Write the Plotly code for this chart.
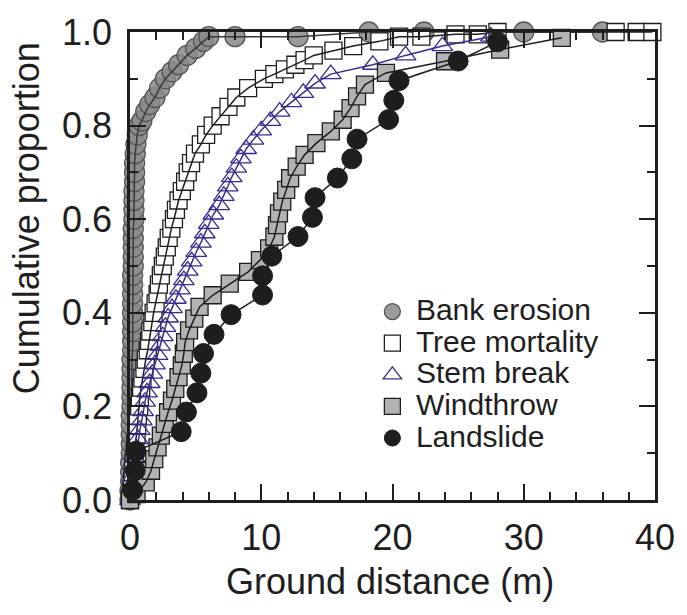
import plotly.graph_objects as go

# Cumulative proportion of wood input versus ground distance, by recruitment process
bank_x = [0.0, 0.0, 0.05, 0.05, 0.05, 0.1, 0.1, 0.1, 0.1, 0.1, 0.15, 0.15, 0.15, 0.15,
          0.15, 0.15, 0.2, 0.2, 0.2, 0.2, 0.2, 0.2, 0.2, 0.2, 0.2, 0.25, 0.25, 0.25, 0.25,
          0.25, 0.3, 0.3, 0.3, 0.3, 0.35, 0.35, 0.35, 0.4, 0.45, 0.55, 0.7, 0.9, 1.2, 1.5,
          1.9, 2.25, 2.7, 3.2, 3.7, 4.35, 5.0, 5.6, 6.0, 8.0, 12.8, 18.2, 22.4, 30.0, 36.0]
bank_y = [0.0, 0.02, 0.04, 0.06, 0.08, 0.10, 0.12, 0.14, 0.16, 0.18, 0.20, 0.22, 0.24, 0.26,
          0.28, 0.30, 0.32, 0.34, 0.36, 0.38, 0.40, 0.42, 0.44, 0.46, 0.48, 0.50, 0.52, 0.54, 0.56,
          0.58, 0.60, 0.62, 0.64, 0.66, 0.68, 0.70, 0.72, 0.74, 0.76, 0.78, 0.80, 0.81, 0.83, 0.845,
          0.86, 0.88, 0.90, 0.915, 0.93, 0.95, 0.965, 0.98, 0.99, 0.99, 0.99, 1.0, 1.0, 1.0, 1.0]

mort_x = [0.0, 0.1, 0.15, 0.2, 0.25, 0.35, 0.4, 0.5, 0.55, 0.6, 0.7, 0.75, 0.85, 0.95, 1.1,
          1.2, 1.35, 1.45, 1.55, 1.7, 1.8, 1.95, 2.1, 2.2, 2.35, 2.5, 2.65, 2.8, 2.95, 3.15,
          3.35, 3.5, 3.7, 3.95, 4.2, 4.4, 4.65, 4.95, 5.4, 5.8, 6.3, 6.9, 7.5, 8.1, 9.0,
          10.2, 11.0, 11.8, 12.6, 13.3, 14.0, 15.5, 17.0, 19.0, 20.5, 22.2, 24.8, 26.5, 28.0,
          37.0, 38.6, 39.8]
mort_y = [0.0, 0.02, 0.04, 0.06, 0.08, 0.10, 0.12, 0.14, 0.16, 0.18, 0.20, 0.22, 0.24, 0.26, 0.28,
          0.30, 0.32, 0.34, 0.36, 0.38, 0.40, 0.42, 0.44, 0.46, 0.48, 0.50, 0.52, 0.54, 0.56, 0.58,
          0.60, 0.62, 0.64, 0.66, 0.68, 0.70, 0.72, 0.74, 0.76, 0.78, 0.80, 0.82, 0.84, 0.86, 0.88,
          0.90, 0.91, 0.92, 0.93, 0.94, 0.95, 0.96, 0.97, 0.98, 0.99, 0.99, 0.995, 0.995, 1.0,
          1.0, 1.0, 1.0]

stem_x = [0.0, 0.05, 0.1, 0.2, 0.3, 0.4, 0.5, 0.6, 0.75, 0.9, 1.0, 1.15, 1.3, 1.5, 1.7, 1.9,
          2.1, 2.3, 2.5, 2.7, 2.9, 3.2, 3.5, 3.8, 4.1, 4.4, 4.7, 5.05, 5.4, 5.7, 6.0, 6.35,
          6.8, 7.15, 7.45, 7.75, 8.1, 8.45, 8.85, 9.4, 10.0, 10.7, 11.4, 12.3, 13.2, 14.1,
          15.3, 18.5, 21.0, 23.8, 27.5]
stem_y = [0.0, 0.01, 0.03, 0.05, 0.07, 0.09, 0.11, 0.13, 0.15, 0.17, 0.19, 0.21, 0.23, 0.25,
          0.27, 0.29, 0.31, 0.33, 0.35, 0.37, 0.39, 0.41, 0.43, 0.45, 0.47, 0.49, 0.51, 0.53,
          0.55, 0.57, 0.59, 0.61, 0.63, 0.65, 0.67, 0.69, 0.71, 0.73, 0.75, 0.77, 0.79, 0.81,
          0.83, 0.85, 0.87, 0.89, 0.91, 0.93, 0.95, 0.97, 0.99]

wind_x = [0.0, 0.5, 1.2, 1.6, 1.85, 2.1, 2.35, 2.65, 2.9, 3.2, 3.45, 3.7, 3.95, 4.1, 4.2,
          4.5, 4.9, 5.3, 6.3, 7.6, 9.0, 9.9, 10.6, 11.0, 11.2, 11.35, 11.6, 11.9, 12.2, 12.7,
          13.3, 14.2, 15.3, 16.2, 16.8, 17.3, 17.9, 19.5, 24.0, 28.2, 32.9]
wind_y = [0.0, 0.0125, 0.0375, 0.0625, 0.0875, 0.1125, 0.1375, 0.1625, 0.1875, 0.2125,
          0.2375, 0.2625, 0.2875, 0.3125, 0.3375, 0.3625, 0.3875, 0.4125, 0.4375, 0.4625,
          0.4875, 0.5125, 0.5375, 0.5625, 0.5875, 0.6125, 0.6375, 0.6625, 0.6875, 0.7125,
          0.7375, 0.7625, 0.7875, 0.8125, 0.8375, 0.8625, 0.8875, 0.9125, 0.9375, 0.9625,
          0.9875]

slide_x = [0.2, 0.4, 0.45, 3.9, 4.3, 5.1, 5.4, 5.6, 6.4, 7.7, 10.1, 10.1, 10.8, 12.8,
           13.9, 14.1, 15.8, 16.9, 17.3, 19.7, 20.1, 20.5, 25.0, 28.0]
slide_y = [0.021, 0.063, 0.104, 0.146, 0.188, 0.229, 0.271, 0.313, 0.354, 0.396, 0.438,
           0.479, 0.521, 0.563, 0.604, 0.646, 0.688, 0.729, 0.771, 0.813, 0.854, 0.896,
           0.938, 0.979]

FONT = "Liberation Sans, Arial, Helvetica, sans-serif"
INK = "#1e1e1e"

series = [
    ("Bank erosion", bank_x, bank_y,
     dict(symbol="circle", size=20, color="rgba(138,138,138,0.85)",
          line=dict(color="#555555", width=1.3)), "#3a3a3a"),
    ("Tree mortality", mort_x, mort_y,
     dict(symbol="square", size=17, color="white",
          line=dict(color=INK, width=1.3)), INK),
    ("Stem break", stem_x, stem_y,
     dict(symbol="triangle-up-open", size=18, color="#3b2b8f",
          line=dict(color="#3b2b8f", width=1.3)), "#3b2b8f"),
    ("Windthrow", wind_x, wind_y,
     dict(symbol="square", size=17, color="#b2b2b2",
          line=dict(color=INK, width=1.3)), INK),
    ("Landslide", slide_x, slide_y,
     dict(symbol="circle", size=20, color=INK,
          line=dict(color=INK, width=1)), INK),
]

fig = go.Figure()
for name, xs, ys, marker, line_color in series:
    fig.add_trace(go.Scatter(
        x=xs, y=ys, mode="markers", marker=marker, cliponaxis=False,
        name=f'<span style="font-size:30px">{name}</span>'))
    fig.add_trace(go.Scatter(
        x=xs, y=ys, mode="lines", line=dict(color=line_color, width=1.5),
        cliponaxis=False, showlegend=False, hoverinfo="skip"))

axis_common = dict(
    showgrid=False, zeroline=False, showline=True, linecolor=INK, linewidth=2.5,
    mirror="ticks", ticks="inside", ticklen=16, tickwidth=2, tickcolor=INK,
    tickfont=dict(family=FONT, size=36, color=INK),
)

fig.update_layout(
    width=687, height=615,
    margin=dict(l=130, r=22, t=23, b=115),
    paper_bgcolor="white", plot_bgcolor="white",
    font=dict(family=FONT, color=INK),
    xaxis=dict(range=[0, 40], tickvals=[0, 10, 20, 30, 40], ticklabelstandoff=4,
               minor=dict(dtick=2, ticks="inside", ticklen=8, tickwidth=1.8, tickcolor=INK),
               **axis_common),
    yaxis=dict(range=[0, 1], tickvals=[0, 0.2, 0.4, 0.6, 0.8, 1.0], tickformat=".1f",
               ticklabelstandoff=8,
               minor=dict(dtick=0.1, ticks="inside", ticklen=8, tickwidth=1.8, tickcolor=INK),
               **axis_common),
    legend=dict(x=0.455, y=0.447, xanchor="left", yanchor="top",
                bgcolor="rgba(0,0,0,0)", borderwidth=0, itemwidth=37,
                font=dict(family=FONT, size=22, color=INK),
                itemclick=False),
    showlegend=True,
    annotations=[
        dict(text="Ground distance (m)", xref="paper", yref="paper", x=0.495, y=-0.175,
             xanchor="center", yanchor="middle", showarrow=False,
             font=dict(family=FONT, size=36, color=INK)),
        dict(text="Cumulative proportion", xref="paper", yref="paper", x=-0.198, y=0.602,
             xanchor="center", yanchor="middle", textangle=-90, showarrow=False,
             font=dict(family=FONT, size=36, color=INK)),
    ],
)

fig.write_html("out.html")
